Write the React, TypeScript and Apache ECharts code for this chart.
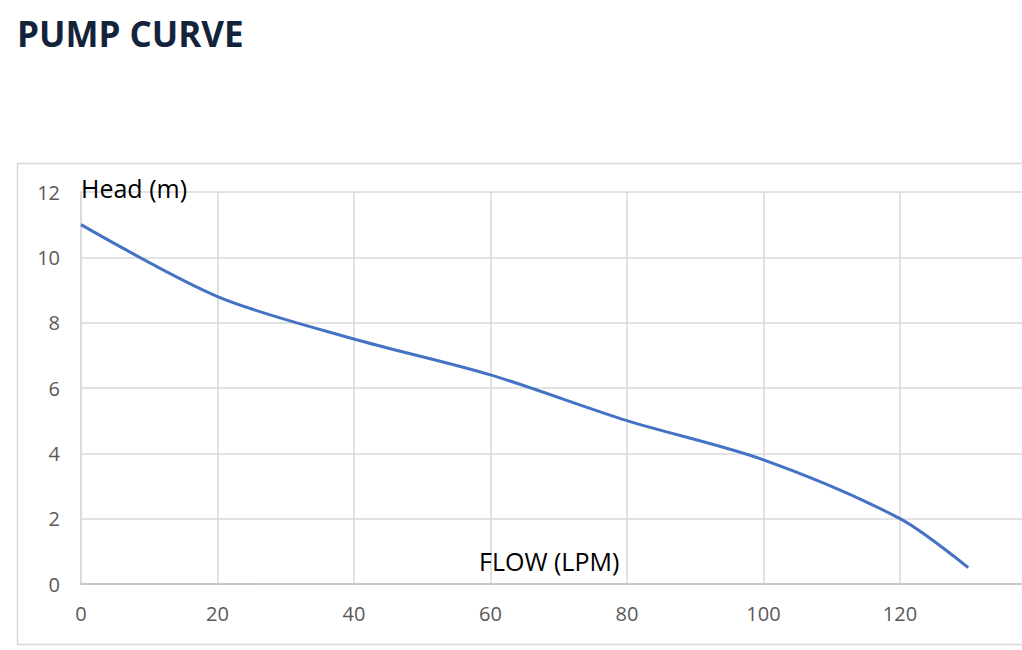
import { useEffect, useRef } from 'react';
import * as echarts from 'echarts';

// 流量 (LPM) 与扬程 (m)
const flow = [0, 20, 40, 60, 80, 100, 120, 130];
const head = [11, 8.8, 7.5, 6.4, 5.0, 3.8, 2.0, 0.5];

const xTicks = [0, 20, 40, 60, 80, 100, 120];
const yTicks = [0, 2, 4, 6, 8, 10, 12];

const gridColor = '#d9d9d9';
const labelColor = '#595959';
const font = '"Open Sans", "Liberation Sans", sans-serif';

export default function App() {
  const chartRef = useRef<HTMLDivElement>(null);

  useEffect(() => {
    document.body.style.margin = '0';
    document.body.style.overflow = 'hidden';
    if (!chartRef.current) return;
    const chart = echarts.init(chartRef.current, undefined, { renderer: 'svg' });

    const option: echarts.EChartsOption = {
      animation: false,
      backgroundColor: '#ffffff',
      grid: { left: 81, right: 1045 - 81 - 7 * 136.5, top: 192, bottom: 66 },
      graphic: [
        {
          type: 'text',
          left: 17,
          top: 16,
          style: {
            text: 'PUMP CURVE',
            font: `bold 35px ${font}`,
            fill: '#14233c',
          },
        },
        {
          type: 'rect',
          shape: { x: 17.5, y: 163.5, width: 1100, height: 481 },
          style: { fill: 'none', stroke: gridColor, lineWidth: 1.5 },
          z: -1,
        },
        {
          type: 'text',
          left: 81,
          top: 175,
          style: { text: 'Head (m)', font: `25px ${font}`, fill: '#000000' },
          z: 10,
        },
        {
          type: 'text',
          left: 479,
          top: 548,
          style: { text: 'FLOW (LPM)', font: `25px ${font}`, fill: '#000000' },
          z: 10,
        },
      ],
      xAxis: {
        type: 'value',
        min: xTicks[0],
        max: 140,
        interval: 20,
        axisLine: { show: true, lineStyle: { color: '#bfbfbf', width: 1.5 } },
        axisTick: { show: false },
        axisLabel: {
          color: labelColor,
          fontSize: 20,
          fontFamily: font,
          margin: 19,
          formatter: (v: number) => (xTicks.includes(v) ? String(v) : ''),
        },
        splitLine: { show: true, lineStyle: { color: gridColor, width: 1.5 } },
      },
      yAxis: {
        type: 'value',
        min: yTicks[0],
        max: yTicks[yTicks.length - 1],
        interval: 2,
        axisLine: { show: true, lineStyle: { color: gridColor, width: 1.5 } },
        axisTick: { show: false },
        axisLabel: {
          color: labelColor,
          fontSize: 20,
          fontFamily: font,
          margin: 21,
        },
        splitLine: { show: true, lineStyle: { color: gridColor, width: 1.5 } },
      },
      series: [
        {
          type: 'line',
          data: flow.map((f, i) => [f, head[i]]),
          smooth: 0.3,
          showSymbol: false,
          lineStyle: { color: '#4472c4', width: 3 },
        },
      ],
    };

    chart.setOption(option);
    return () => chart.dispose();
  }, []);

  return (
    <div style={{ width: 1022, height: 650, overflow: 'hidden' }}>
      <div ref={chartRef} style={{ width: 1045, height: 650 }} />
    </div>
  );
}
